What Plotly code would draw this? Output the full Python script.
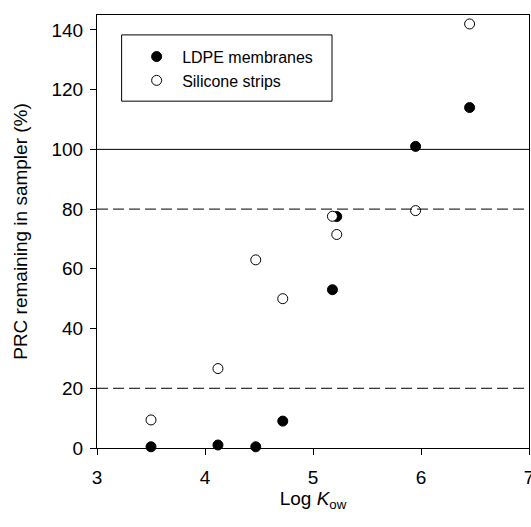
import plotly.graph_objects as go

log_kow = [3.50, 4.12, 4.47, 4.72, 5.18, 5.22, 5.95, 6.45]
ldpe = [0.4, 1.0, 0.4, 9.0, 53.0, 77.5, 101.0, 114.0]
silicone = [9.4, 26.6, 63.0, 50.0, 77.6, 71.5, 79.5, 142.0]
x_ticks = [3, 4, 5, 6, 7]
y_ticks = [0, 20, 40, 60, 80, 100, 120, 140]

FONT = "Liberation Sans, Arial, sans-serif"

fig = go.Figure()
fig.add_trace(go.Scatter(x=log_kow, y=ldpe, mode="markers", name="LDPE membranes",
                         marker=dict(symbol="circle", size=10, color="black",
                                     line=dict(color="black", width=1)),
                         cliponaxis=False))
fig.add_trace(go.Scatter(x=log_kow, y=silicone, mode="markers", name="Silicone strips",
                         marker=dict(symbol="circle", size=10, color="white",
                                     line=dict(color="black", width=1)),
                         cliponaxis=False))

fig.add_hline(y=100, line=dict(color="black", width=1))
fig.add_hline(y=80, line=dict(color="black", width=1, dash="11px,5px"))
fig.add_hline(y=20, line=dict(color="black", width=1, dash="11px,5px"))

# legend frame
fig.add_shape(type="rect", xref="paper", yref="paper",
              x0=0.057, x1=0.544, y0=0.801, y1=0.954,
              line=dict(color="black", width=1), fillcolor="rgba(0,0,0,0)", layer="above")

fig.update_layout(
    width=531, height=527,
    margin=dict(l=97, r=2, t=15, b=79, autoexpand=False),
    plot_bgcolor="white", paper_bgcolor="white",
    font=dict(family=FONT, color="black", size=19),
    showlegend=True,
    legend=dict(x=0.079, y=0.943, xanchor="left", yanchor="top",
                borderwidth=0, bgcolor="rgba(0,0,0,0)",
                font=dict(size=16), itemwidth=41,
                tracegroupgap=0),
    xaxis=dict(range=[3, 7], tickvals=x_ticks, ticks="outside", ticklen=6,
               tickcolor="black", showline=True, linecolor="black", linewidth=1,
               mirror=True, showgrid=False, zeroline=False, automargin=False,
               ticklabeloverflow="allow", ticklabelstandoff=6,
               title=dict(text="Log <i>K</i><sub>ow</sub>", font=dict(size=19), standoff=0)),
    yaxis=dict(range=[0, 145], tickvals=y_ticks, ticks="outside", ticklen=6,
               tickcolor="black", showline=True, linecolor="black", linewidth=1,
               mirror=True, showgrid=False, zeroline=False, automargin=False,
               ticklabelstandoff=3,
               title=dict(text="PRC remaining in sampler (%)", font=dict(size=19), standoff=18)),
)

fig.write_html("out.html", config={"displayModeBar": False},
               post_script="document.body.style.margin='0';document.body.style.overflow='hidden';")
